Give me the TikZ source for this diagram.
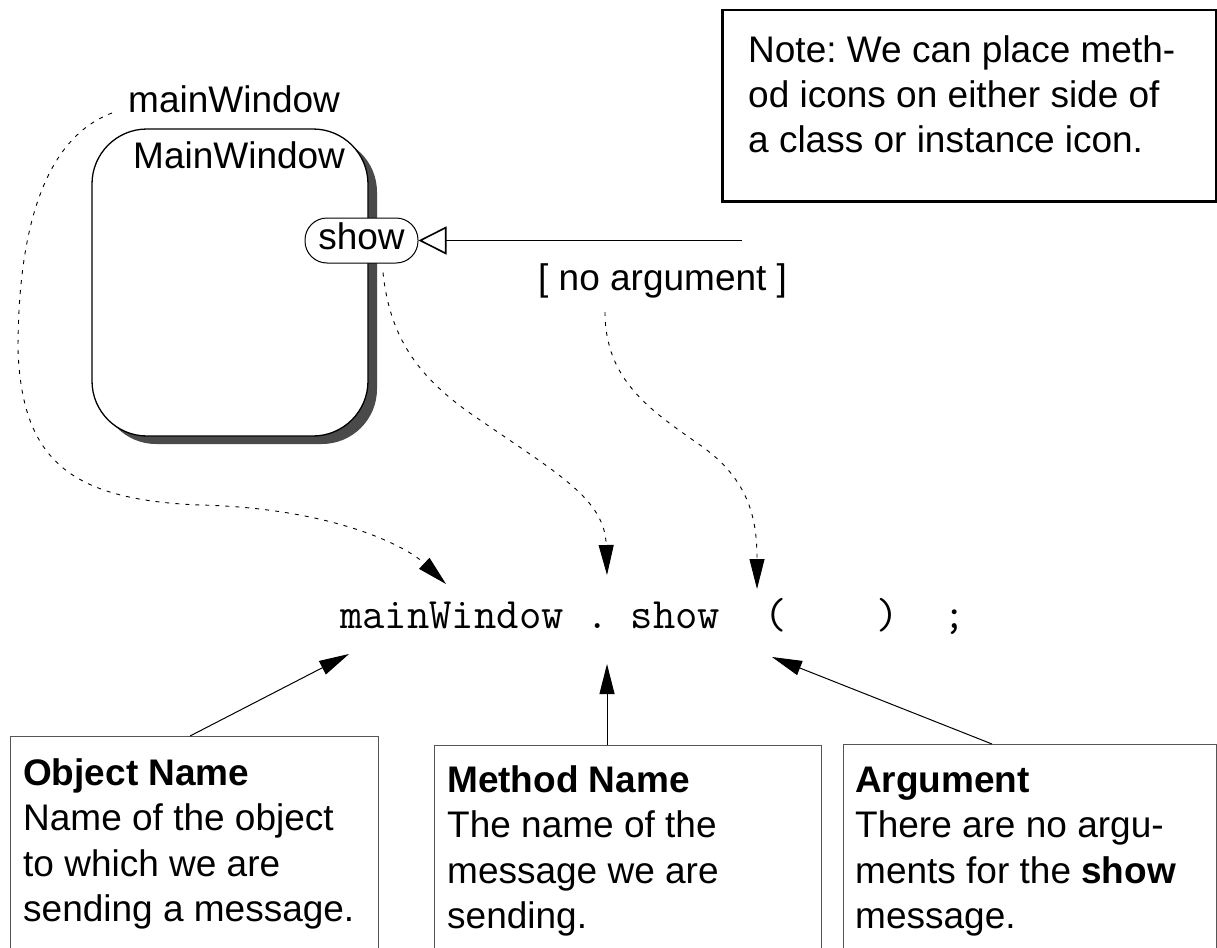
\documentclass[tikz,border=0pt]{standalone}
\usepackage{fontspec}
\setmainfont{Liberation Sans}
\usetikzlibrary{arrows.meta,shadows}

\definecolor{shadowgray}{HTML}{4A4A4A}
\definecolor{boxgray}{HTML}{555555}

\newcommand\bodysize{\fontsize{37}{45.5}\selectfont}
\newcommand\notesize{\fontsize{37}{45}\selectfont}
\newcommand\codesize{\fontsize{43.4}{46}\selectfont\ttfamily}
\frenchspacing

\begin{document}
\begin{tikzpicture}[x=1pt,y=-1pt,
  txt/.style={anchor=base west, inner sep=0pt, font=\bodysize},
  classicon/.style={draw, line width=1.3pt, fill=white, rounded corners=55pt,
    minimum width=276pt, minimum height=307pt, inner sep=0pt,
    general shadow={fill=shadowgray, shadow xshift=9pt, shadow yshift=-8pt}},
  methodicon/.style={draw, line width=1pt, fill=white, rounded corners=22pt,
    minimum width=113pt, minimum height=45pt, inner sep=0pt,
    text height=26pt, text depth=8pt, font=\bodysize},
  notebox/.style={draw, line width=2.5pt, anchor=north west,
    minimum width=494pt, minimum height=191pt, inner sep=0pt},
  infobox/.style={draw=boxgray, line width=1pt, anchor=north west,
    minimum height=240pt, inner sep=0pt},
  trace/.style={line width=0.9pt, dash pattern=on 4pt off 6pt,
    -{Triangle[length=30pt,width=15pt]}},
  pointer/.style={line width=1pt, -{Triangle[length=30pt,width=15pt]}},
  message/.style={line width=1.6pt,
    -{Triangle[open,length=28pt,width=28pt,fill=white]}}
]
\useasboundingbox (0,0) rectangle (1217,947);
\clip (0,0) rectangle (1217,947);

% class icon with its method icon
\node[classicon] (cls) at (230,282.5) {};
\node[txt] (clsname) at (133,168) {MainWindow};
\node[txt] (objlabel) at (128,113) {mainWindow};
\node[methodicon] (show) at (361.5,240.5) {show};

% incoming message
\coordinate (msgsrc) at (742,240.5);
\draw[message] (msgsrc) -- (show.east);
\node[txt] (noarg) at (538,290) {[ no argument ]};

% note
\node[notebox] (note) at (721,9) {};
\node[anchor=base west, inner sep=0pt, font=\notesize] (notetext) at (748,63)
  {\parbox[t]{460pt}{\raggedright Note: We can place meth-\\od icons on either side of\\a class or instance icon.}};

% the statement
\node[anchor=base west, inner sep=0pt, font=\codesize] (code) at (340,628)
  {mainWindow . show~~(~~~~)~~;};

\coordinate (objtip) at ([xshift=106pt,yshift=44pt]code.base west);
\coordinate (dottop) at ([xshift=267pt,yshift=53pt]code.base west);
\coordinate (argtop) at ([xshift=417pt,yshift=39pt]code.base west);
\coordinate (objlow) at ([xshift=9pt,yshift=-26pt]code.base west);
\coordinate (dotlow) at ([xshift=267pt,yshift=-36pt]code.base west);
\coordinate (arglow) at ([xshift=432pt,yshift=-29pt]code.base west);

% dashed traces from the icons to the statement
\coordinate (mwstart) at ([xshift=-16pt]objlabel.base west);
\coordinate (showfoot) at ([xshift=21.5pt,yshift=-9pt]show.south);
\coordinate (noargfoot) at ([xshift=67pt,yshift=-22pt]noarg.base west);

\draw[trace] (mwstart) .. controls (40,140) and (18,240) .. (18,350)
  .. controls (22,460) and (70,500) .. (200,505)
  .. controls (330,508) and (405,545) .. (objtip);
\draw[trace] (showfoot) .. controls (390,340) and (420,380) .. (480,420)
  .. controls (560,475) and (605,500) .. (dottop);
\draw[trace] (noargfoot) .. controls (605,380) and (650,410) .. (700,445)
  .. controls (750,480) and (757,520) .. (argtop);

% explanation boxes
\node[infobox, minimum width=368pt] (objbox) at (10,736) {};
\node[infobox, minimum width=387pt] (methbox) at (434,745) {};
\node[infobox, minimum width=373pt] (argbox) at (843,744) {};

\node[txt] (objtext) at (23,785)
  {\parbox[t]{350pt}{\raggedright\textbf{Object Name}\\Name of the object\\to which we are\\sending a message.}};
\node[txt] (methtext) at (447,792)
  {\parbox[t]{370pt}{\raggedright\textbf{Method Name}\\The name of the\\message we are\\sending.}};
\node[txt] (argtext) at (855,792)
  {\parbox[t]{360pt}{\raggedright\textbf{Argument}\\There are no argu-\\ments for the \textbf{show}\\message.}};

\coordinate (objfoot) at ([xshift=180pt]objbox.north west);
\coordinate (methfoot) at ([xshift=173pt]methbox.north west);
\coordinate (argfoot) at ([xshift=149pt]argbox.north west);

\draw[pointer] (objfoot) -- (objlow);
\draw[pointer] (methfoot) -- (dotlow);
\draw[pointer] (argfoot) -- (arglow);
\end{tikzpicture}
\end{document}
